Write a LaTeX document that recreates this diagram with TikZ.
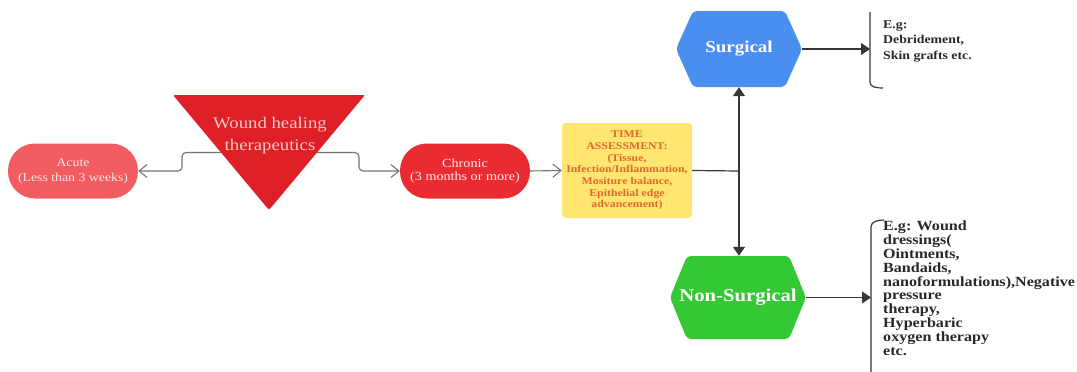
\documentclass[tikz,border=0pt]{standalone}
\usepackage{fontspec}
\setmainfont{Liberation Serif}[FakeStretch=1.15]
\usetikzlibrary{arrows.meta,calc}
\definecolor{trired}{RGB}{222,32,38}
\definecolor{acutered}{RGB}{240,92,96}
\definecolor{chronred}{RGB}{234,44,50}
\definecolor{tayellow}{RGB}{255,230,112}
\definecolor{taorange}{RGB}{226,104,44}
\definecolor{surgblue}{RGB}{74,143,240}
\definecolor{nsgreen}{RGB}{52,200,52}
\definecolor{linegray}{RGB}{115,115,115}
\definecolor{darkline}{RGB}{55,55,55}
\definecolor{anntext}{RGB}{40,40,40}
\tikzset{
  pill/.style={rectangle, rounded corners=27pt, minimum width=130pt, minimum height=55pt, inner sep=0pt, align=center, fill=#1},
  hexa/.style={rectangle, inner sep=0pt, align=center, text=white,
    path picture={\fill[rounded corners=4pt,#1]
      (path picture bounding box.west)
      -- ([xshift=17pt]path picture bounding box.north west)
      -- ([xshift=-17pt]path picture bounding box.north east)
      -- (path picture bounding box.east)
      -- ([xshift=-17pt]path picture bounding box.south east)
      -- ([xshift=17pt]path picture bounding box.south west)
      -- cycle;}},
  tri/.style={rectangle, inner sep=0pt, minimum width=192pt, minimum height=115pt,
    path picture={\fill[rounded corners=2pt,trired]
      (path picture bounding box.north west)
      -- (path picture bounding box.north east)
      -- (path picture bounding box.south) -- cycle;}},
  openarr/.style={draw=linegray, line width=1.1pt, rounded corners=4pt,
    -{Straight Barb[length=8pt,width=13pt,line width=1.1pt]}},
  plainline/.style={draw=darkline, line width=1.2pt},
  filledarr/.style={draw=darkline, line width=1.2pt, -{Triangle[length=9pt,width=12pt]}},
  bracket/.style={draw=darkline, line width=1.2pt},
  ann/.style={anchor=north west, inner sep=0pt, align=left, text=anntext, font=\bfseries}
}
\begin{document}
\begin{tikzpicture}[x=1pt,y=-1pt]
\useasboundingbox (0,0) rectangle (1077,372);
% main triangle
\node[tri] (wht) at (269,152.5) {};
\node[text={rgb,255:red,246;green,200;blue,200}, align=center, inner sep=0pt,
  font=\fontsize{16.3}{22}\selectfont] (whtext) at (270,136) {Wound healing\\therapeutics};
% acute and chronic
\node[pill=acutered, text={rgb,255:red,255;green,228;blue,228},
  font=\fontsize{12}{15}\selectfont] (acute) at (73,171) {Acute\\(Less than 3 weeks)};
\node[pill=chronred, text={rgb,255:red,255;green,235;blue,235},
  font=\fontsize{12.3}{13.5}\selectfont] (chronic) at (465,171) {Chronic\\(3 months or more)};
% time assessment
\node[rectangle, rounded corners=4pt, fill=tayellow, minimum width=130pt, minimum height=95pt,
  inner sep=0pt, align=center, text=taorange, font=\bfseries\fontsize{10.3}{11.7}\selectfont]
  (ta) at (627,170.5) {TIME\\ASSESSMENT:\\(Tissue,\\Infection/Inflammation,\\Mositure balance,\\Epithelial edge\\advancement)};
% hexagons
\node[hexa=surgblue, minimum width=126pt, minimum height=76pt,
  font=\bfseries\fontsize{16.5}{18}\selectfont] (surg) at (739,49) {Surgical};
\node[hexa=nsgreen, minimum width=136pt, minimum height=83pt,
  font=\bfseries\fontsize{18}{20}\selectfont] (nons) at (738,297.5) {Non-Surgical};
% annotations
\coordinate (sb) at (870,49);
\coordinate (nb) at (871,297.5);
\draw[bracket] (870,12) -- (870,82) to[out=-90,in=180] (883,88);
\draw[bracket] (884,220) to[out=180,in=90] (871,227) -- (871,372);
\node[ann, font=\bfseries\fontsize{12}{15.5}\selectfont] (sann) at (883,20)
  {E.g:\\Debridement,\\Skin grafts etc.};
\node[ann, font=\bfseries\fontsize{14}{13.8}\selectfont] (nann) at (883,221)
  {E.g: Wound\\dressings(\\Ointments,\\Bandaids,\\nanoformulations),Negative\\pressure\\therapy,\\Hyperbaric\\oxygen therapy\\etc.};
% connectors
\coordinate (tl) at ($(wht.north west)!0.5!(wht.south)$);
\coordinate (tr) at ($(wht.north east)!0.5!(wht.south)$);
\draw[openarr] (tl) -- (182,152.5) -- (182,171) -- (acute.east);
\draw[openarr] (tr) -- (359,152.5) -- (359,171) -- (chronic.west);
\draw[openarr, rounded corners=0pt] (chronic.east) -- (ta.west);
\coordinate (j) at (739,171);
\draw[plainline] (ta.east) -- (j);
\draw[filledarr] (j) -- (surg.south);
\draw[filledarr] (j) -- (nons.north -| j);
\draw[filledarr] (surg.east) -- (sb);
\draw[filledarr] (nons.east) -- (nb);
\end{tikzpicture}
\end{document}
